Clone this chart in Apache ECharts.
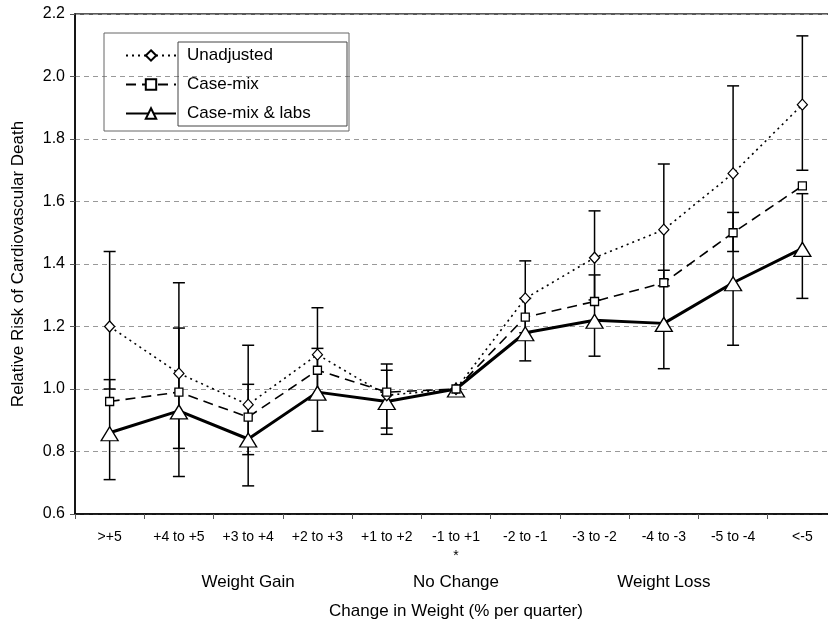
<!DOCTYPE html>
<html>
<head>
<meta charset="utf-8">
<script src="https://cdn.jsdelivr.net/npm/echarts@6/dist/echarts.min.js"></script>
<style>
	html, body { margin: 0; padding: 0; background: #fff; }
	#chart { width: 828px; height: 619px; }
</style>
</head>
<body>
<div id="chart"></div>
<script>
	const categories = ['>+5', '+4 to +5', '+3 to +4', '+2 to +3', '+1 to +2', '-1 to +1', '-2 to -1', '-3 to -2', '-4 to -3', '-5 to -4', '<-5']
	const unadjusted = [1.20, 1.05, 0.95, 1.11, 0.98, 1.00, 1.29, 1.42, 1.51, 1.69, 1.91]
	const caseMix = [0.96, 0.99, 0.91, 1.06, 0.99, 1.00, 1.23, 1.28, 1.34, 1.50, 1.65]
	const caseMixLabs = [0.86, 0.93, 0.84, 0.99, 0.96, 1.00, 1.18, 1.22, 1.21, 1.34, 1.45]
	// confidence intervals (reference group has none)
	const unadjLow = [1.00, 0.81, 0.79, 0.975, 0.875, null, 1.18, 1.285, 1.33, 1.44, 1.70]
	const unadjHigh = [1.44, 1.34, 1.14, 1.26, 1.08, null, 1.41, 1.57, 1.72, 1.97, 2.13]
	const labsLow = [0.71, 0.72, 0.69, 0.865, 0.855, null, 1.09, 1.105, 1.065, 1.14, 1.29]
	const labsHigh = [1.03, 1.195, 1.015, 1.13, 1.06, null, 1.29, 1.365, 1.38, 1.565, 1.625]
	const groupLabels = [
		{ text: 'Weight Gain', at: '+3 to +4' },
		{ text: 'No Change', at: '-1 to +1' },
		{ text: 'Weight Loss', at: '-4 to -3' }
	]

	const font = 'Liberation Sans, Arial, sans-serif'

	function errData(low, high) {
		let out = []
		low.forEach((v, i) => {
			if (v != null) out.push([i, v, high[i]])
		})
		return out
	}

	function renderErr(params, api) {
		const lo = api.coord([api.value(0), api.value(1)])
		const hi = api.coord([api.value(0), api.value(2)])
		const w = 6
		const style = { stroke: '#000', lineWidth: 1.5 }
		return {
			type: 'group',
			children: [
				{ type: 'line', shape: { x1: lo[0], y1: lo[1], x2: hi[0], y2: hi[1] }, style: style },
				{ type: 'line', shape: { x1: lo[0] - w, y1: lo[1], x2: lo[0] + w, y2: lo[1] }, style: style },
				{ type: 'line', shape: { x1: hi[0] - w, y1: hi[1], x2: hi[0] + w, y2: hi[1] }, style: style }
			]
		}
	}

	const chart = echarts.init(document.getElementById('chart'))

	let option = {
		animation: false,
		textStyle: { fontFamily: font },
		grid: {
			left: 75,
			width: 762,
			top: 14,
			bottom: 105,
			outerBoundsMode: 'none',
			show: true,
			borderColor: '#222',
			borderWidth: 1.5
		},
		legend: {
			orient: 'vertical',
			left: 120,
			top: 42,
			itemGap: 12,
			itemWidth: 50,
			itemHeight: 13,
			textStyle: { fontSize: 17, color: '#000', fontFamily: font, padding: [0, 0, 0, 6] },
			data: ['Unadjusted', 'Case-mix', 'Case-mix & labs']
		},
		xAxis: {
			type: 'category',
			data: categories,
			boundaryGap: true,
			name: 'Change in Weight (% per quarter)',
			nameLocation: 'middle',
			nameGap: 89,
			nameTextStyle: { fontSize: 17, color: '#000', fontFamily: font },
			axisLine: { lineStyle: { color: '#000', width: 1.5 } },
			axisTick: { show: true, length: 5, lineStyle: { color: '#555' } },
			axisLabel: {
				color: '#000',
				fontSize: 14,
				margin: 14,
				interval: 0,
				lineHeight: 19,
				formatter: v => v === '-1 to +1' ? v + '\n*' : v
			},
			splitLine: { show: false }
		},
		yAxis: {
			type: 'value',
			min: 0.6,
			max: 2.2,
			interval: 0.2,
			name: 'Relative Risk of Cardiovascular Death',
			nameLocation: 'middle',
			nameRotate: 90,
			nameGap: 48,
			nameTextStyle: { fontSize: 17, color: '#000', fontFamily: font },
			axisLine: { show: true, lineStyle: { color: '#000', width: 1.5 } },
			axisTick: { show: true, length: 5, lineStyle: { color: '#555' } },
			axisLabel: {
				color: '#000',
				fontSize: 16,
				margin: 10,
				formatter: v => v.toFixed(1)
			},
			splitLine: { show: true, lineStyle: { color: '#999', type: [5, 4], width: 1 } }
		},
		series: [
			{
				type: 'custom',
				name: 'unadjCI',
				renderItem: renderErr,
				encode: { x: 0, y: [1, 2] },
				data: errData(unadjLow, unadjHigh),
				z: 1
			},
			{
				type: 'custom',
				name: 'labsCI',
				renderItem: renderErr,
				encode: { x: 0, y: [1, 2] },
				data: errData(labsLow, labsHigh),
				z: 1
			},
			{
				name: 'Unadjusted',
				type: 'line',
				data: unadjusted,
				symbol: 'diamond',
				symbolSize: [10, 11],
				showAllSymbol: true,
				lineStyle: { color: '#000', width: 1.6, type: [2, 4] },
				itemStyle: { color: '#fff', borderColor: '#000', borderWidth: 1.3 },
				z: 3
			},
			{
				name: 'Case-mix',
				type: 'line',
				data: caseMix,
				symbol: 'rect',
				symbolSize: 8,
				showAllSymbol: true,
				lineStyle: { color: '#000', width: 1.6, type: [10, 6] },
				itemStyle: { color: '#fff', borderColor: '#000', borderWidth: 1.3 },
				z: 3
			},
			{
				name: 'Case-mix & labs',
				type: 'line',
				data: caseMixLabs,
				symbol: 'triangle',
				symbolSize: [17, 14],
				symbolOffset: [0, 1],
				showAllSymbol: true,
				lineStyle: { color: '#000', width: 3 },
				itemStyle: { color: '#fff', borderColor: '#000', borderWidth: 1.3 },
				z: 2
			}
		]
	}

	chart.setOption(option)

	// legend frames and group labels under the axis
	const axisY = chart.convertToPixel({ yAxisIndex: 0 }, 0.6)
	let graphic = [
		{
			type: 'rect',
			shape: { x: 104, y: 33, width: 245, height: 98 },
			style: { fill: 'none', stroke: '#666', lineWidth: 1 },
			z: 0
		},
		{
			type: 'rect',
			shape: { x: 178, y: 42, width: 169, height: 84 },
			style: { fill: 'none', stroke: '#444', lineWidth: 1 },
			z: 0
		}
	]
	groupLabels.forEach(g => {
		graphic.push({
			type: 'text',
			x: chart.convertToPixel({ xAxisIndex: 0 }, g.at),
			y: axisY + 68,
			style: {
				text: g.text,
				fontSize: 17,
				fontFamily: font,
				fill: '#000',
				align: 'center',
				verticalAlign: 'middle'
			}
		})
	})
	chart.setOption({ graphic: graphic })
</script>
</body>
</html>
